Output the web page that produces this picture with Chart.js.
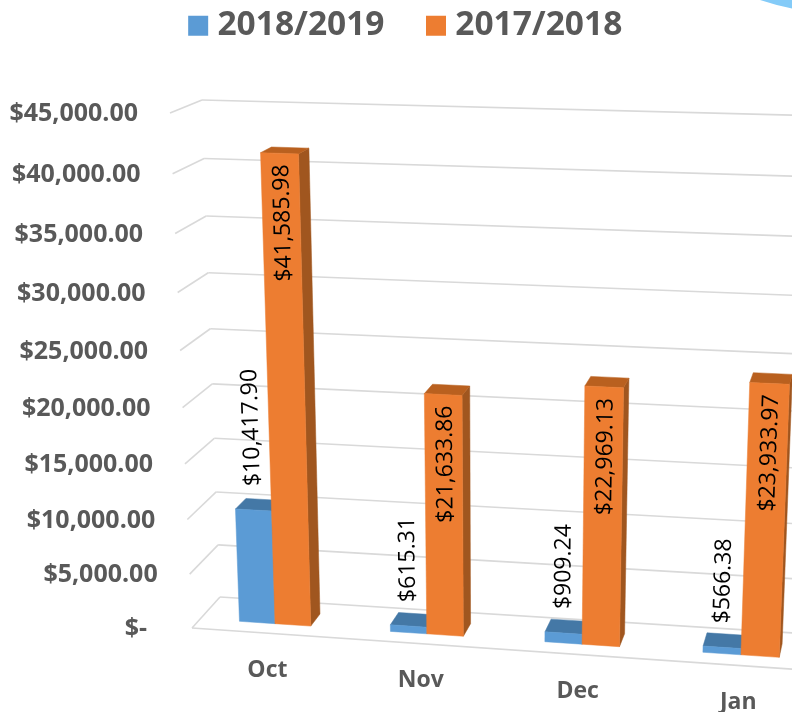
<!DOCTYPE html>
<html><head><meta charset="utf-8">
<style>html,body{margin:0;padding:0;background:#fff}#w{width:792px;height:712px;position:relative}</style>
<script src="https://cdn.jsdelivr.net/npm/chart.js@4"></script>
</head><body><div id="w"><canvas id="c"></canvas></div>
<script>
const categories = ['Oct','Nov','Dec','Jan'];
const series2018 = [10417.90,615.31,909.24,566.38];
const series2017 = [41585.98,21633.86,22969.13,23933.97];
const seriesNames = ['2018/2019','2017/2018'];
const axisMax = 45000, axisStep = 5000;

// Perspective planes of the 3-D box (corners BL, BR, TR, TL)
function homography(q){
  const [x0,y0]=q[0],[x1,y1]=q[1],[x2,y2]=q[2],[x3,y3]=q[3];
  const dx1=x1-x2,dx2=x3-x2,sx=x0-x1+x2-x3,dy1=y1-y2,dy2=y3-y2,sy=y0-y1+y2-y3;
  const den=dx1*dy2-dx2*dy1, g=(sx*dy2-dx2*sy)/den, h=(dx1*sy-sx*dy1)/den;
  const a=x1-x0+g*x1,b=x3-x0+h*x3,d=y1-y0+g*y1,e=y3-y0+h*y3;
  return (u,v)=>{const w=g*u+h*v+1;return [(a*u+b*v+x0)/w,(d*u+e*v+y0)/w];};
}
const frontPlane = homography([[192,628],[820,671],[843,133],[170,113]]);
const backPlane  = homography([[220,597],[826,635],[849,116.6],[202,100]]);
function project3(u,v,d){const f=frontPlane(u,v),b=backPlane(u,v);return [f[0]+(b[0]-f[0])*d,f[1]+(b[1]-f[1])*d];}

const BAR_FRONT=0.3, BAR_BACK=0.68;
const faceColors=[{front:'#5B9BD5',top:'#4478A6',side:'#3F6F9C'},{front:'#ED7D31',top:'#B9601F',side:'#A0561F'}];
const money=v=>'$'+v.toLocaleString('en-US',{minimumFractionDigits:2,maximumFractionDigits:2});
const tickText=v=>v===0?'$-  ':money(v);

function poly(ctx,pts,color){ctx.beginPath();pts.forEach((p,i)=>i?ctx.lineTo(p[0],p[1]):ctx.moveTo(p[0],p[1]));ctx.closePath();ctx.fillStyle=color;ctx.fill();ctx.strokeStyle=color;ctx.lineWidth=0.5;ctx.stroke();}
function seg(ctx,a,b){ctx.beginPath();ctx.moveTo(a[0],a[1]);ctx.lineTo(b[0],b[1]);ctx.stroke();}

const box3d={
  id:'box3d',
  afterLayout(chart){ const l=chart.legend; l.top=l.top-60; l.left-=27; l.right-=27; },
  beforeDatasetsDraw(chart){
    const ctx=chart.ctx,A=chart.chartArea,X=chart.scales.x,Y=chart.scales.y;
    const U=px=>(px-A.left)/(A.right-A.left), V=py=>(A.bottom-py)/(A.bottom-A.top);
    ctx.save();
    // corner decoration
    ctx.beginPath();ctx.moveTo(760,0);ctx.quadraticCurveTo(775,5,792,8.5);ctx.lineTo(792,0);ctx.closePath();ctx.fillStyle='#84CBF8';ctx.fill();
    // grid
    ctx.strokeStyle='#D9D9D9';ctx.lineWidth=1.6;
    Y.ticks.forEach(t=>{const v=V(Y.getPixelForValue(t.value));
      seg(ctx,project3(0,v,0),project3(0,v,1));
      const a=project3(0,v,1),b=project3(1,v,1);seg(ctx,a,b);});
    seg(ctx,project3(0,0,0),project3(1,0,0));
    // bars
    const metas=[chart.getDatasetMeta(0),chart.getDatasetMeta(1)];
    categories.forEach((_,i)=>{
      metas.forEach((m,k)=>{
        const el=m.data[i],c=faceColors[k];
        const u0=U(el.x-el.width/2),u1=U(el.x+el.width/2),v0=V(el.base),v1=V(el.y);
        poly(ctx,[project3(u1,v0,BAR_FRONT),project3(u1,v0,BAR_BACK),project3(u1,v1,BAR_BACK),project3(u1,v1,BAR_FRONT)],c.side);
        poly(ctx,[project3(u0,v1,BAR_FRONT),project3(u1,v1,BAR_FRONT),project3(u1,v1,BAR_BACK),project3(u0,v1,BAR_BACK)],c.top);
        poly(ctx,[project3(u0,v0,BAR_FRONT),project3(u1,v0,BAR_FRONT),project3(u1,v1,BAR_FRONT),project3(u0,v1,BAR_FRONT)],c.front);
      });
    });
    // value labels
    ctx.fillStyle='#000';ctx.font='23px "Open Sans"';ctx.textBaseline='middle';
    categories.forEach((_,i)=>{
      metas.forEach((m,k)=>{
        const el=m.data[i],val=chart.data.datasets[k].data[i];
        const uc=U(el.x),v0=V(el.base),v1=V(el.y);
        const top=project3(uc,v1,BAR_FRONT),bot=project3(uc,v0,BAR_FRONT);
        const ang=Math.atan2(top[1]-bot[1],top[0]-bot[0]);
        ctx.save();
        if(k===1){ctx.translate(top[0]+2,top[1]+11);ctx.rotate(ang);ctx.textAlign='right';}
        else{ctx.translate(top[0],top[1]-24);ctx.rotate(ang);ctx.textAlign='left';}
        ctx.fillText(money(val),0,0);
        ctx.restore();
      });
    });
    // axis labels
    ctx.fillStyle='#595959';ctx.font='bold 25px "Open Sans"';ctx.textAlign='right';
    Y.ticks.forEach(t=>{const p=project3(0,V(Y.getPixelForValue(t.value)),0);ctx.fillText(tickText(t.value),p[0]-32,p[1]+1);});
    ctx.font='bold 23px "Open Sans"';ctx.textAlign='center';
    X.ticks.forEach((t,i)=>{const p=project3(U(X.getPixelForTick(i)),0,0);ctx.fillText(X.getLabelForValue(t.value),p[0],p[1]+37);});
    ctx.restore();
    return false;
  }
};

new Chart(document.getElementById('c'),{
  type:'bar',
  data:{labels:categories,datasets:[
    {label:seriesNames[0],data:series2018,backgroundColor:faceColors[0].front,borderWidth:0},
    {label:seriesNames[1],data:series2017,backgroundColor:faceColors[1].front,borderWidth:0}
  ]},
  options:{
    responsive:true,maintainAspectRatio:false,animation:false,
    categoryPercentage:0.475,barPercentage:1,
    layout:{padding:{left:100,right:20,top:20,bottom:60}},
    scales:{
      x:{display:false},
      y:{display:false,min:0,max:axisMax,ticks:{stepSize:axisStep}}
    },
    plugins:{
      tooltip:{enabled:false},
      legend:{position:'top',labels:{color:'#595959',font:{family:'"Open Sans"',size:33.5,weight:'bold'},
        usePointStyle:true,pointStyle:'rect',boxWidth:5,boxHeight:20,padding:49}}
    }
  },
  plugins:[box3d]
});
</script></body></html>
